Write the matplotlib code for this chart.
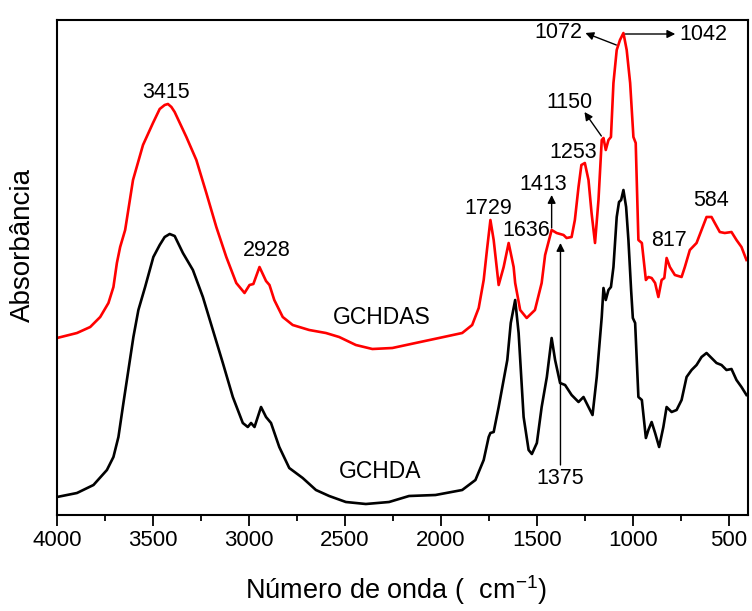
import matplotlib
matplotlib.use("Agg")
import matplotlib.pyplot as plt

# ---- data ----
wn_red = [4000, 3896, 3827, 3775, 3732, 3706, 3688, 3671, 3645, 3604, 3552, 3500, 3465, 3439, 3422,
          3404, 3387, 3326, 3274, 3222, 3170, 3118, 3066, 3023, 2997, 2977, 2945, 2911, 2893, 2868,
          2824, 2772, 2686, 2599, 2530, 2443, 2357, 2253, 2132, 2010, 1889, 1837, 1803, 1777, 1760,
          1742, 1725, 1699, 1673, 1647, 1621, 1613, 1587, 1553, 1510, 1475, 1457, 1423, 1397, 1361,
          1345, 1319, 1302, 1283, 1268, 1250, 1231, 1215, 1197, 1179, 1162, 1153, 1141, 1127, 1114,
          1101, 1084, 1067, 1049, 1032, 1014, 997, 985, 971, 953, 932, 919, 902, 884, 867, 850, 836,
          824, 807, 781, 746, 729, 703, 668, 642, 616, 590, 573, 547, 521, 486, 460, 434, 408]
abs_red = [177, 182, 188, 198, 212, 228, 252, 268, 285, 335, 370, 392, 406, 410, 411,
           408, 403, 378, 355, 322, 288, 258, 232, 222, 230, 231, 248, 234, 230, 215,
           198, 190, 185, 182, 178, 170, 166, 167, 172, 177, 182, 190, 207, 235, 265,
           295, 275, 230, 248, 272, 248, 232, 205, 197, 205, 232, 260, 285, 282, 280,
           277, 278, 295, 328, 350, 352, 335, 302, 272, 315, 375, 377, 365, 375, 378,
           432, 465, 475, 482, 465, 432, 378, 372, 275, 272, 235, 238, 237, 232, 218, 235, 237,
           257, 248, 240, 238, 248, 265, 272, 285, 298, 298, 292, 283, 282, 283, 275, 268, 255]

wn_black = [4000, 3896, 3810, 3740, 3706, 3680, 3654, 3628, 3602, 3576, 3541, 3498, 3465, 3439, 3413,
            3387, 3344, 3292, 3240, 3188, 3136, 3084, 3032, 3006, 2989, 2971, 2937, 2911, 2885, 2842,
            2790, 2720, 2651, 2582, 2495, 2391, 2270, 2166, 2028, 1889, 1820, 1777, 1751, 1742, 1725,
            1699, 1654, 1636, 1613, 1595, 1569, 1543, 1526, 1500, 1475, 1448, 1423, 1405, 1379, 1353,
            1319, 1283, 1257, 1231, 1210, 1188, 1162, 1153, 1141, 1127, 1114, 1101, 1084, 1072, 1061,
            1049, 1035, 1023, 1009, 1000, 988, 971, 953, 932, 919, 902, 884, 863, 841, 824, 798, 772,
            746, 720, 694, 668, 642, 616, 590, 564, 538, 512, 486, 460, 434, 408]
abs_black = [18, 22, 30, 45, 58, 78, 112, 145, 178, 205, 228, 258, 270, 278, 281,
             279, 262, 245, 218, 185, 152, 118, 92, 88, 92, 88, 108, 98, 92, 68,
             47, 37, 25, 19, 13, 11, 13, 19, 20, 25, 35, 55, 78, 82, 83,
             108, 155, 192, 215, 182, 98, 65, 61, 72, 108, 138, 177, 155, 132, 130,
             120, 113, 118, 108, 100, 138, 198, 227, 215, 225, 228, 248, 298, 313, 315,
             325, 308, 275, 225, 197, 192, 118, 115, 77, 85, 93, 82, 68, 88, 108, 103, 105,
             115, 138, 145, 150, 158, 162, 157, 152, 150, 145, 146, 135, 128, 120]

series_names = ["GCHDAS", "GCHDA"]
xticks = [4000, 3500, 3000, 2500, 2000, 1500, 1000, 500]

# peak labels: (text, x, y)
peak_labels = [("3415", 3434, 423), ("2928", 2909, 265), ("1729", 1751, 307), ("1636", 1553, 285),
               ("1413", 1465, 330), ("1253", 1309, 363), ("1150", 1330, 413), ("1072", 1387, 482),
               ("1042", 634, 480), ("817", 810, 275), ("584", 592, 315), ("1375", 1377, 37)]
# arrows: (x_from, y_from, x_to, y_to)
arrows = [(1423, 287, 1423, 320), (1164, 379, 1252, 403), (1086, 470, 1247, 482),
          (1039, 481, 779, 481), (1377, 50, 1377, 272)]

# ---- fonts ----
plt.rcParams["font.family"] = ["Liberation Sans", "DejaVu Sans"]
plt.rcParams["mathtext.fontset"] = "custom"
plt.rcParams["mathtext.rm"] = "Liberation Sans"
plt.rcParams["mathtext.default"] = "rm"

fig = plt.figure(figsize=(7.52, 6.11), dpi=100)
ax = fig.add_axes([57/752, 1-515/611, (748-57)/752, (515-20)/611])

ax.plot(wn_red, abs_red, color="#ff0000", lw=1.9)
ax.plot(wn_black, abs_black, color="black", lw=1.9)

ax.set_xlim(4000, 400)
ax.set_ylim(0, 495)
ax.set_xticks(xticks)
ax.set_xticks(list(range(3750, 400, -500)), minor=True)
ax.set_yticks([])
ax.tick_params(axis="x", which="major", direction="out", length=8, width=1.3, pad=3, labelsize=16)
ax.tick_params(axis="x", which="minor", direction="out", length=4.5, width=1.3)
for s in ax.spines.values():
    s.set_linewidth(1.5)

ax.set_xlabel("Número de onda (  cm$^{-1}$)", fontsize=19.5)
ax.xaxis.label.set_va("center")
ax.xaxis.set_label_coords(0.491, -0.152)
ax.set_ylabel("Absorbância", fontsize=20)
ax.yaxis.label.set_va("center")
ax.yaxis.set_label_coords(-0.049, 0.545)

ax.text(2306, 197, series_names[0], fontsize=16.5, ha="center", va="center")
ax.text(2317, 43, series_names[1], fontsize=16.5, ha="center", va="center")

for t, x, y in peak_labels:
    ax.text(x, y, t, fontsize=15.5, ha="center", va="center")

for x0, y0, x1, y1 in arrows:
    ax.annotate("", xy=(x1, y1), xytext=(x0, y0),
                arrowprops=dict(arrowstyle="-|>", color="black", lw=1.0,
                                mutation_scale=12, shrinkA=0, shrinkB=0))

fig.savefig("out.png", dpi=100)
